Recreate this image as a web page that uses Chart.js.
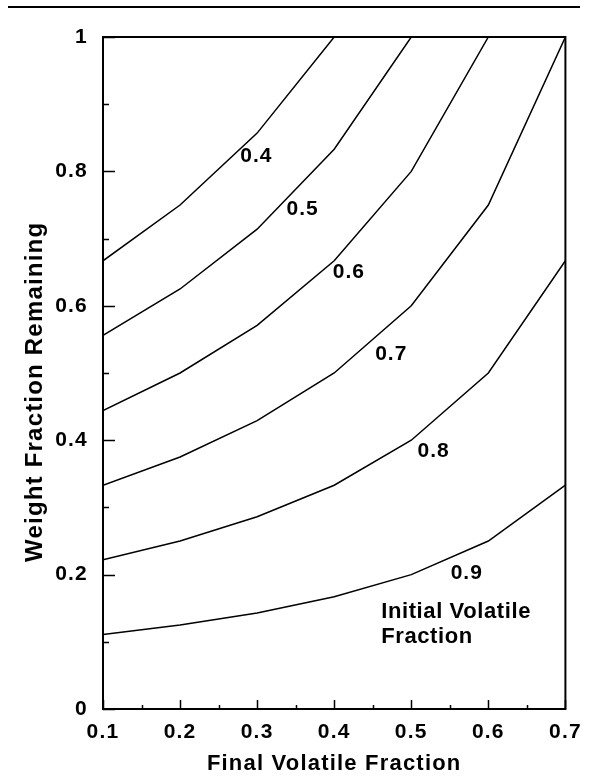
<!DOCTYPE html>
<html>
<head>
<meta charset="utf-8">
<script src="https://cdn.jsdelivr.net/npm/chart.js@4"></script>
<style>
  html, body { margin: 0; padding: 0; background: #fff; }
  canvas { display: block; }
</style>
</head>
<body>
<canvas id="chart" width="593" height="776"></canvas>
<script>
// Weight fraction remaining vs final volatile fraction, one curve per
// initial volatile fraction.

const X_VALUES = [0.1, 0.2, 0.3, 0.4, 0.5, 0.6, 0.7];

const W_04 = [0.667, 0.75, 0.857, 1.0];
const W_05 = [0.556, 0.625, 0.714, 0.833, 1.0];
const W_06 = [0.444, 0.5, 0.571, 0.667, 0.8, 1.0];
const W_07 = [0.333, 0.375, 0.429, 0.5, 0.6, 0.75, 1.0];
const W_08 = [0.222, 0.25, 0.286, 0.333, 0.4, 0.5, 0.667];
const W_09 = [0.111, 0.125, 0.143, 0.167, 0.2, 0.25, 0.333];

const SERIES = [W_04, W_05, W_06, W_07, W_08, W_09];
const SERIES_NAMES = ['0.4', '0.5', '0.6', '0.7', '0.8', '0.9'];

const X_TICKS = [0.1, 0.2, 0.3, 0.4, 0.5, 0.6, 0.7];
const X_MINOR = [0.15, 0.25, 0.35, 0.45, 0.55, 0.65];
const Y_TICKS = [0, 0.2, 0.4, 0.6, 0.8, 1];
const Y_MINOR = [0.1, 0.3, 0.5, 0.7, 0.9];

// curve labels, placed in data coordinates
const CURVE_LABELS = [
  { text: '0.4', x: 0.299, y: 0.823 },
  { text: '0.5', x: 0.359, y: 0.744 },
  { text: '0.6', x: 0.419, y: 0.650 },
  { text: '0.7', x: 0.474, y: 0.528 },
  { text: '0.8', x: 0.529, y: 0.384 },
  { text: '0.9', x: 0.572, y: 0.202 },
];
const LEGEND_LINES = ['Initial Volatile', 'Fraction'];
const Y_TITLE = 'Weight Fraction Remaining';

const FONT = '"Liberation Sans", Arial, Helvetica, sans-serif';

function fmt(v) {
  const r = Math.round(v * 10) / 10;
  return r === 0 || r === 1 ? String(r) : r.toFixed(1);
}

const frame = {
  id: 'frame',
  beforeDraw(chart) {
    chart.ctx.letterSpacing = '1.2px';
  },
  afterDraw(chart) {
    const { ctx, chartArea: a, scales: { x, y } } = chart;
    ctx.save();
    ctx.strokeStyle = '#000';

    // rule at top of page
    ctx.lineWidth = 2;
    ctx.beginPath();
    ctx.moveTo(8, 7);
    ctx.lineTo(580, 7);
    ctx.stroke();

    // plot box
    ctx.strokeRect(a.left, a.top, a.right - a.left, a.bottom - a.top);

    // inward ticks
    ctx.lineWidth = 1.5;
    ctx.beginPath();
    for (const v of Y_TICKS) {
      const py = Math.round(y.getPixelForValue(v)) + 0.5;
      ctx.moveTo(a.left, py);
      ctx.lineTo(a.left + 12, py);
    }
    for (const v of Y_MINOR) {
      const py = Math.round(y.getPixelForValue(v)) + 0.5;
      ctx.moveTo(a.left, py);
      ctx.lineTo(a.left + 6, py);
    }
    for (const v of X_TICKS) {
      const px = Math.round(x.getPixelForValue(v)) + 0.5;
      ctx.moveTo(px, a.bottom);
      ctx.lineTo(px, a.bottom - 9);
    }
    for (const v of X_MINOR) {
      const px = Math.round(x.getPixelForValue(v)) + 0.5;
      ctx.moveTo(px, a.bottom);
      ctx.lineTo(px, a.bottom - 4);
    }
    ctx.stroke();

    ctx.fillStyle = '#000';
    ctx.textBaseline = 'middle';
    ctx.textAlign = 'center';

    // y axis title (sits a little below the plot centre in the original)
    ctx.save();
    ctx.translate(35, y.getPixelForValue(0.472));
    ctx.rotate(-Math.PI / 2);
    ctx.letterSpacing = '1.2px';
    ctx.font = `bold 24px ${FONT}`;
    ctx.fillText(Y_TITLE, 0, 0);
    ctx.restore();

    // curve labels
    ctx.letterSpacing = '1px';
    ctx.font = `bold 21px ${FONT}`;
    for (const l of CURVE_LABELS) {
      ctx.fillText(l.text, x.getPixelForValue(l.x), y.getPixelForValue(l.y));
    }

    ctx.textAlign = 'left';
    ctx.letterSpacing = '0.6px';
    ctx.font = `bold 22px ${FONT}`;
    const lx = x.getPixelForValue(0.461);
    ctx.fillText(LEGEND_LINES[0], lx, y.getPixelForValue(0.1443));
    ctx.fillText(LEGEND_LINES[1], lx, y.getPixelForValue(0.107));
    ctx.restore();
  },
};

new Chart(document.getElementById('chart'), {
  type: 'line',
  data: {
    datasets: SERIES.map((s, i) => ({
      label: SERIES_NAMES[i],
      data: s.map((v, j) => ({ x: X_VALUES[j], y: v })),
      borderColor: '#000',
      borderWidth: 1.5,
      pointRadius: 0,
      tension: 0,
      fill: false,
    })),
  },
  options: {
    responsive: false,
    devicePixelRatio: 1,
    animation: false,
    color: '#000',
    layout: { padding: { top: 37, right: 26, bottom: 0, left: 0 } },
    plugins: { legend: { display: false }, tooltip: { enabled: false } },
    scales: {
      x: {
        type: 'linear',
        min: 0.1,
        max: 0.7,
        afterBuildTicks: (s) => { s.ticks = X_TICKS.map((v) => ({ value: v })); },
        afterFit: (s) => { s.height = 67; },
        grid: { display: false, drawTicks: false },
        border: { display: false },
        ticks: {
          color: '#000',
          padding: 13,
          font: { family: FONT, size: 21, weight: 'bold', lineHeight: 1 },
          callback: (v) => fmt(v),
          maxRotation: 0,
        },
        title: {
          display: true,
          text: 'Final Volatile Fraction',
          color: '#000',
          font: { family: FONT, size: 22, weight: 'bold', lineHeight: 1 },
          padding: { top: 0, bottom: 1 },
        },
      },
      y: {
        type: 'linear',
        min: 0,
        max: 1,
        afterBuildTicks: (s) => { s.ticks = Y_TICKS.map((v) => ({ value: v })); },
        afterFit: (s) => { s.width = 103; },
        grid: { display: false, drawTicks: false },
        border: { display: false },
        ticks: {
          color: '#000',
          padding: 15,
          font: { family: FONT, size: 21, weight: 'bold' },
          callback: (v) => fmt(v),
        },
        title: { display: false },
      },
    },
  },
  plugins: [frame],
});
</script>
</body>
</html>
